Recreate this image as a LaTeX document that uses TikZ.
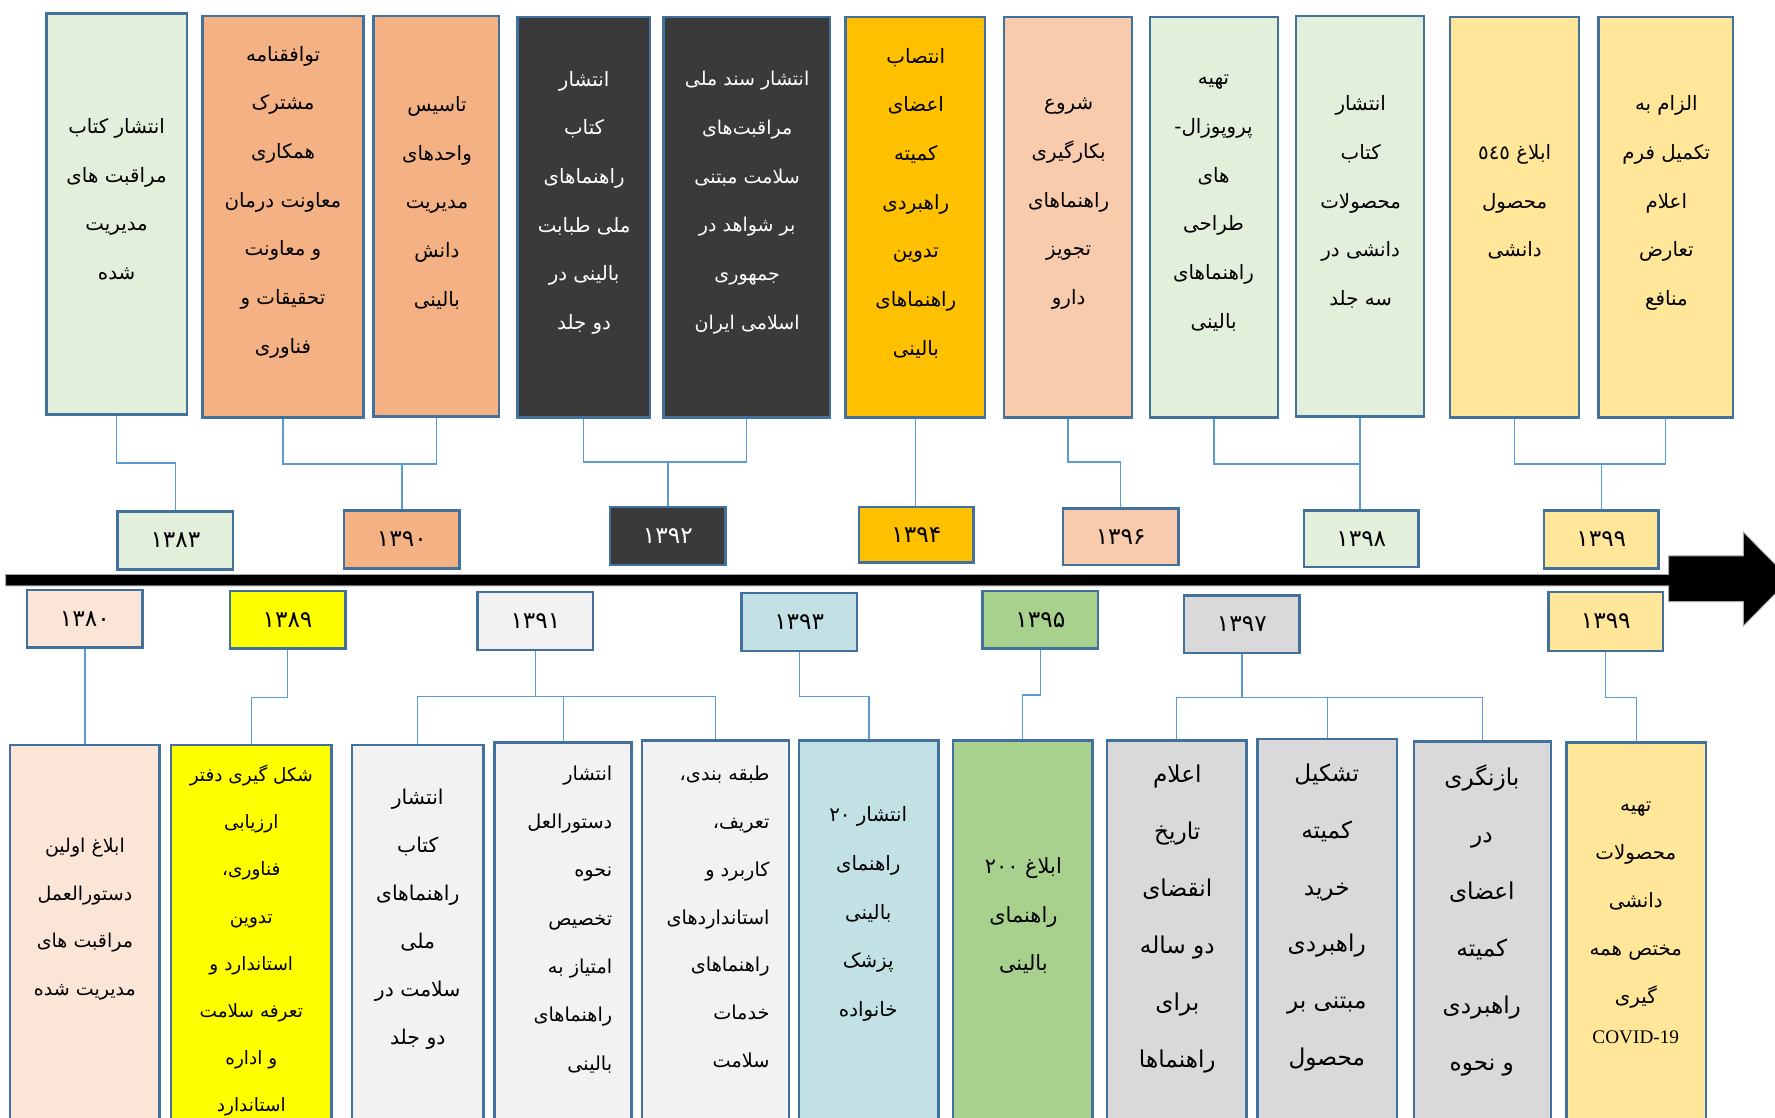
\documentclass[tikz,border=0pt]{standalone}
\usepackage{fontspec}
\setmainfont{Liberation Serif}
\newfontfamily\fafont[Script=Arabic]{DejaVu Sans}
\TeXXeTstate=1
\newcommand\fa[1]{\beginR #1\endR}
\definecolor{lgreen}{HTML}{E2EFDA}
\definecolor{orng}{HTML}{F4B183}
\definecolor{dark}{HTML}{3A3A3A}
\definecolor{gold}{HTML}{FFC000}
\definecolor{peach}{HTML}{F8CBAD}
\definecolor{lyellow}{HTML}{FFE699}
\definecolor{lpeach}{HTML}{FBE5D6}
\definecolor{yel}{HTML}{FFFF00}
\definecolor{lgray}{HTML}{F2F2F2}
\definecolor{lteal}{HTML}{C1E1E4}
\definecolor{grn}{HTML}{A9D18E}
\definecolor{gry}{HTML}{D9D9D9}
\definecolor{bord}{HTML}{41719C}
\definecolor{conncol}{HTML}{5B9BD5}
\tikzset{
  boxst/.style={draw=bord, line width=2.2pt, inner sep=0pt},
  yrst/.style={boxst, font=\fafont\fontsize{20.5}{24}\selectfont},
  conn/.style={draw=conncol, line width=1.2pt},
  txt/.style={align=center, inner sep=0pt, font=\fafont\fontsize{17.5}{43}\selectfont},
  txtr/.style={align=right, inner sep=0pt, anchor=east, font=\fafont\fontsize{17}{42.5}\selectfont},
  txtbig/.style={align=center, inner sep=0pt, font=\fafont\fontsize{20.5}{50.3}\selectfont},
}
\newcommand\mkbox[6]{\node[boxst,fill=#2,minimum width={#5-#3},minimum height={#6-#4}] (#1) at ({(#3+#5)/2},{(#4+#6)/2}) {};}
\newcommand\mkyr[7]{\node[yrst,fill=#2,minimum width={#5-#3},minimum height={#6-#4}] (#1) at ({(#3+#5)/2},{(#4+#6)/2}) {#7};}
\begin{document}
\begin{tikzpicture}[x=1pt,y=-1pt]
\useasboundingbox (0,0) rectangle (1568,987.6);
\clip (0,0) rectangle (1568,987.6);

% timeline arrow
\filldraw[fill=black, draw=black!35, line width=0.8pt]
  (5,507.5) -- (1474,507.5) -- (1474,491) -- (1540,491) -- (1540,470) -- (1581,511.5)
  -- (1540,553) -- (1540,531.5) -- (1474,531.5) -- (1474,517.5) -- (5,517.5) -- cycle;

% top boxes
\mkbox{t1}{lgreen}{41}{12}{165}{366}
\mkbox{t2}{orng}{179}{14}{321}{369}
\mkbox{t3}{orng}{330}{14}{441}{368}
\mkbox{t4}{dark}{457}{15}{574}{369}
\mkbox{t5}{dark}{586}{15}{733}{369}
\mkbox{t6}{gold}{747}{15}{870}{369}
\mkbox{t7}{peach}{887}{15}{1000}{369}
\mkbox{t8}{lgreen}{1016}{15}{1129}{369}
\mkbox{t9}{lgreen}{1145}{14}{1258}{368}
\mkbox{t10}{lyellow}{1281}{15}{1395}{369}
\mkbox{t11}{lyellow}{1412}{15}{1531}{369}

\node[txt] (t1x) at (103,176) {\fa{انتشار کتاب}\\\fa{مراقبت های}\\\fa{مدیریت}\\\fa{شده}};
\node[txt] (t2x) at (250,178.5) {\fa{توافقنامه}\\\fa{مشترک}\\\fa{همکاری}\\\fa{معاونت درمان}\\\fa{و معاونت}\\\fa{تحقیقات و}\\\fa{فناوری}};
\node[txt] (t3x) at (386,179) {\fa{تاسیس}\\\fa{واحدهای}\\\fa{مدیریت}\\\fa{دانش}\\\fa{بالینی}};
\node[txt,text=white] (t4x) at (516,179) {\fa{انتشار}\\\fa{کتاب}\\\fa{راهنماهای}\\\fa{ملی طبابت}\\\fa{بالینی در}\\\fa{دو جلد}};
\node[txt,text=white,font=\fafont\fontsize{16.8}{43}\selectfont] (t5x) at (660,179) {\fa{انتشار سند ملی}\\\fa{مراقبت‌های}\\\fa{سلامت مبتنی}\\\fa{بر شواهد در}\\\fa{جمهوری}\\\fa{اسلامی ایران}};
\node[txt] (t6x) at (809,179.5) {\fa{انتصاب}\\\fa{اعضای}\\\fa{کمیته}\\\fa{راهبردی}\\\fa{تدوین}\\\fa{راهنماهای}\\\fa{بالینی}};
\node[txt] (t7x) at (944,180) {\fa{شروع}\\\fa{بکارگیری}\\\fa{راهنماهای}\\\fa{تجویز}\\\fa{دارو}};
\node[txt] (t8x) at (1072,179.5) {\fa{تهیه}\\\mbox{-}\mbox{پروپوزال}\\\fa{های}\\\fa{طراحی}\\\fa{راهنماهای}\\\fa{بالینی}};
\node[txt] (t9x) at (1202,178.5) {\fa{انتشار}\\\fa{کتاب}\\\fa{محصولات}\\\fa{دانشی در}\\\fa{سه جلد}};
\node[txt] (t10x) at (1338,178.5) {\fa{ابلاغ ٥٤٥}\\\fa{محصول}\\\fa{دانشی}};
\node[txt] (t11x) at (1472,179.5) {\fa{الزام به}\\\fa{تکمیل فرم}\\\fa{اعلام}\\\fa{تعارض}\\\fa{منافع}};

% top years
\mkyr{y83}{lgreen}{104}{452}{206}{503}{۱۳۸۳}
\mkyr{y90}{orng}{304}{451}{406}{502}{۱۳۹۰}
\mkyr{y92}{dark}{539}{448}{641}{499}{\color{white}۱۳۹۲}
\mkyr{y94}{gold}{759}{448}{860}{497}{۱۳۹۴}
\mkyr{y96}{peach}{939}{449}{1041}{499}{۱۳۹۶}
\mkyr{y98}{lgreen}{1152}{451}{1253}{501}{۱۳۹۸}
\mkyr{y99t}{lyellow}{1364}{451}{1465}{502}{۱۳۹۹}

% bottom years
\mkyr{y80}{lpeach}{24}{521}{126}{572}{۱۳۸۰}
\mkyr{y89}{yel}{203}{522}{305}{573}{۱۳۸۹}
\mkyr{y91}{lgray}{422}{523}{524}{574}{۱۳۹۱}
\mkyr{y93}{lteal}{655}{524}{757}{575}{۱۳۹۳}
\mkyr{y95}{grn}{868}{522}{970}{573}{۱۳۹۵}
\mkyr{y97}{gry}{1046}{526}{1148}{577}{۱۳۹۷}
\mkyr{y99b}{lyellow}{1368}{523}{1469}{575}{۱۳۹۹}

% bottom boxes
\mkbox{b1}{lpeach}{9}{658}{141}{1000}
\mkbox{b2}{yel}{151}{658}{293}{1000}
\mkbox{b3}{lgray}{311}{658}{427}{1000}
\mkbox{b4}{lgray}{437}{656}{558}{1000}
\mkbox{b5}{lgray}{567}{654}{697}{1000}
\mkbox{b6}{lteal}{706}{654}{829}{1000}
\mkbox{b7}{grn}{842}{654}{965}{1000}
\mkbox{b8}{gry}{978}{654}{1101}{1000}
\mkbox{b9}{gry}{1111}{653}{1234}{1000}
\mkbox{b10}{gry}{1249}{655}{1370}{1000}
\mkbox{b11}{lyellow}{1384}{656}{1507}{1000}

\node[txt,font=\fafont\fontsize{16.8}{42}\selectfont] (b1x) at (75,812) {\fa{ابلاغ اولین}\\\fa{دستورالعمل}\\\fa{مراقبت های}\\\fa{مدیریت شده}};
\node[txt,font=\fafont\fontsize{16.3}{41.7}\selectfont] (b2x) at (222,831) {\fa{شکل گیری دفتر}\\\fa{ارزیابی}\\\fa{فناوری،}\\\fa{تدوین}\\\fa{استاندارد و}\\\fa{تعرفه سلامت}\\\fa{و اداره}\\\fa{استاندارد}};
\node[txt,font=\fafont\fontsize{18}{42.4}\selectfont] (b3x) at (369,812) {\fa{انتشار}\\\fa{کتاب}\\\fa{راهنماهای}\\\fa{ملی}\\\fa{سلامت در}\\\fa{دو جلد}};
\node[txtr,font=\fafont\fontsize{17}{42.7}\selectfont] (b4x) at (541,812) {\fa{انتشار}\\\fa{دستورالعل}\\\fa{نحوه}\\\fa{تخصیص}\\\fa{امتیاز به}\\\fa{راهنماهای}\\\fa{بالینی}};
\node[txtr,font=\fafont\fontsize{17}{42.3}\selectfont] (b5x) at (680,810) {\fa{طبقه بندی،}\\\fa{تعریف،}\\\fa{کاربرد و}\\\fa{استانداردهای}\\\fa{راهنماهای}\\\fa{خدمات}\\\fa{سلامت}};
\node[txt,font=\fafont\fontsize{17.5}{43}\selectfont] (b6x) at (767,807.5) {\fa{انتشار ۲۰}\\\fa{راهنمای}\\\fa{بالینی}\\\fa{پزشک}\\\fa{خانواده}};
\node[txt,font=\fafont\fontsize{18.5}{43}\selectfont] (b7x) at (904,809) {\fa{ابلاغ ۲۰۰}\\\fa{راهنمای}\\\fa{بالینی}};
\node[txtbig] (b8x) at (1040,812) {\fa{اعلام}\\\fa{تاریخ}\\\fa{انقضای}\\\fa{دو ساله}\\\fa{برای}\\\fa{راهنماها}};
\node[txtbig] (b9x) at (1172,810.5) {\fa{تشکیل}\\\fa{کمیته}\\\fa{خرید}\\\fa{راهبردی}\\\fa{مبتنی بر}\\\fa{محصول}};
\node[txtbig] (b10x) at (1309,813) {\fa{بازنگری}\\\fa{در}\\\fa{اعضای}\\\fa{کمیته}\\\fa{راهبردی}\\\fa{و نحوه}};
\node[txt,font=\fafont\fontsize{17.5}{42.4}\selectfont] (b11x) at (1445,815) {\fa{تهیه}\\\fa{محصولات}\\\fa{دانشی}\\\fa{مختص همه}\\\fa{گیری}\\[-7pt]{\rmfamily\fontsize{17}{20}\selectfont COVID-19}};

% top connectors
\coordinate (j83) at (155,409);
\coordinate (j90) at (355,410);
\coordinate (j92) at (590,408);
\coordinate (j96) at (990,408);
\coordinate (j98) at (1201.5,410);
\coordinate (j99) at (1414.5,410);
\draw[conn] (t1.south) |- (j83) -- (y83.north);
\draw[conn] (t2.south) |- (j90) -- (y90.north);
\draw[conn] (t3.south) |- (j90);
\draw[conn] (t4.south) |- (j92) -- (y92.north);
\draw[conn] (t5.south) |- (j92);
\draw[conn] (t6.south) -- (t6.south |- y94.north);
\draw[conn] (t7.south) |- (j96) -- (y96.north);
\draw[conn] (t8.south) |- (j98);
\draw[conn] (t9.south) -- (t9.south |- y98.north);
\draw[conn] (t10.south) |- (j99) -- (y99t.north);
\draw[conn] (t11.south) |- (j99);

% bottom connectors
\coordinate (k89) at (254,616);
\coordinate (k91) at (473,615);
\coordinate (k93) at (706,615);
\coordinate (k95) at (919,614);
\coordinate (k97) at (1097,616);
\coordinate (k99) at (1418.5,616);
\draw[conn] (y80.south) -- (y80.south |- b1.north);
\draw[conn] (y89.south) -- (k89) -| (b2.north);
\draw[conn] (y91.south) -- (k91);
\draw[conn] (k91) -| (b3.north);
\draw[conn] (k91) -| (b4.north);
\draw[conn] (k91) -| (b5.north);
\draw[conn] (y93.south) -- (k93) -| (b6.north);
\draw[conn] (y95.south) -- (k95) -| (b7.north);
\draw[conn] (y97.south) -- (k97);
\draw[conn] (k97) -| (b8.north);
\draw[conn] (k97) -| (b9.north);
\draw[conn] (k97) -| (b10.north);
\draw[conn] (y99b.south) -- (k99) -| (b11.north);
\end{tikzpicture}
\end{document}
